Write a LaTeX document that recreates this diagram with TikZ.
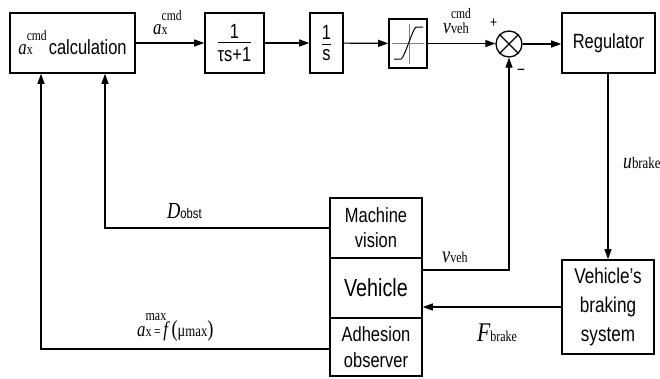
\documentclass[tikz,border=0pt]{standalone}
\usepackage{fontspec}
\setmainfont{Liberation Sans}[FakeStretch=0.8]
\newfontfamily\tim{Liberation Serif}[FakeStretch=0.8]
\usetikzlibrary{arrows.meta}
\newcommand\fs[1]{\fontsize{#1}{#1}\selectfont}
\newcommand\fsl[2]{\fontsize{#1}{#2}\selectfont}
% italic variable, upright subscript, stacked superscript
\newcommand\vsup[3]{{\tim\itshape\fs{21}#1}\makebox[0pt][l]{\raisebox{14pt}{\tim\fs{14.5}#3}}{\tim\fs{15}#2}}
\newcommand\vsub[4]{{\tim\itshape\fs{#3}#1}{\tim\fs{#4}#2}}
\newcommand\fracbox[2]{\vbox{\offinterlineskip\halign{\hfil##\hfil\cr #1\cr\noalign{\kern4pt\hrule height 1.3pt\kern4.5pt}#2\cr}}}
\tikzset{
  blk/.style={draw, line width=1.6pt, inner sep=0pt, align=center, font=\fs{20.6}},
  conn/.style={line width=1.2pt},
  arr/.style={conn, -{Triangle[length=10pt,width=7pt]}},
  lab/.style={anchor=base west, inner sep=0pt},
}
\begin{document}
\begin{tikzpicture}[x=1pt,y=-1pt]
\useasboundingbox (0,0) rectangle (660,378);
% top row
\node[blk, minimum width=125, minimum height=60] (calc) at (72.5,43) {\vsup{a}{x}{cmd}\hspace{16pt}calculation};
\node[blk, minimum width=59, minimum height=60] (tau) at (234.5,43) {\fracbox{1}{τs+1}};
\node[blk, minimum width=33, minimum height=60] (integ) at (326.5,43) {\fracbox{1}{s}};
\node[blk, minimum width=38, minimum height=49] (sat) at (408,43.5) {};
\node[draw, circle, line width=1.3pt, minimum size=26, inner sep=0pt] (sum) at (509,44) {};
\node[blk, minimum width=93, minimum height=60] (reg) at (608.5,43) {Regulator};
% saturation icon
\draw[gray, line width=0.9pt] (392,43.5) -- (424,43.5) (409,24) -- (409,64);
\draw[line width=1pt] (394,59) -- (401,59) .. controls (404,59) and (413,28) .. (416,27) -- (423,27);
% sum cross
\draw[line width=1.1pt] (sum.north west) -- (sum.south east) (sum.north east) -- (sum.south west);
% lower blocks
\node[blk, minimum width=92, minimum height=60, font=\fsl{20.6}{25}] (mv) at (376,228) {Machine\\vision};
\node[blk, minimum width=92, minimum height=60, font=\fs{24.7}] (veh) at (376,288) {Vehicle};
\node[blk, minimum width=92, minimum height=58, font=\fsl{20.6}{26}] (adh) at (376,347) {Adhesion\\observer};
\node[blk, minimum width=92, minimum height=94, font=\fsl{21.4}{29}] (brk) at (608,307) {Vehicle’s\\braking\\system};
% connectors
\draw[arr] (calc) -- (tau);
\draw[arr] (tau) -- (integ);
\draw[arr] (integ) -- (sat);
\draw[arr] (sat) -- (sum.west |- sat.east);
\draw[arr] (sum) -- (reg.west |- sum.east);
\draw[arr] (reg.south -| brk.north) -- (brk.north);
\draw[arr] (brk.west) -- (veh.east |- brk.west);
\draw[arr] ([yshift=18pt]veh.east) -| (sum.south);
\draw[arr] (mv.west) -| ([xshift=32.5pt]calc.south);
\draw[arr] ([yshift=-2pt]adh.west) -| ([xshift=-31.5pt]calc.south);
% labels
\node[lab] (lacmd) at (153,34) {\vsup{a}{x}{cmd}};
\node[lab] (lvcmd) at (443,33) {{\tim\itshape\fs{22}v}\makebox[0pt][l]{\raisebox{14.5pt}{\tim\fs{14.5}cmd}}{\tim\fs{15.5}veh}};
\node[lab, font=\fs{15}] (lplus) at (490,27) {+};
\node[lab, font=\fs{17}] (lminus) at (517,75) {−};
\node[lab] (lu) at (623,168) {\vsub{u}{brake}{22}{16}};
\node[lab] (lv) at (442,262) {\vsub{v}{veh}{23}{15}};
\node[lab] (lF) at (477,341) {\vsub{F}{brake}{27}{15}};
\node[lab] (lD) at (167,218) {{\tim\itshape\fs{23}D}{\fs{14}obst}};
\node[lab] (lamax) at (137,336) {{\tim\itshape\fs{21}a}\makebox[0pt][l]{\raisebox{16pt}{\tim\fs{15}max}}{\tim\fs{15}x}{\tim\fs{15}\,=\,}{\tim\itshape\fs{21}f\,}{\tim\fs{23}(}{\tim\fs{18}μ}{\tim\fs{16}max}{\tim\fs{23})}};
\end{tikzpicture}
\end{document}
